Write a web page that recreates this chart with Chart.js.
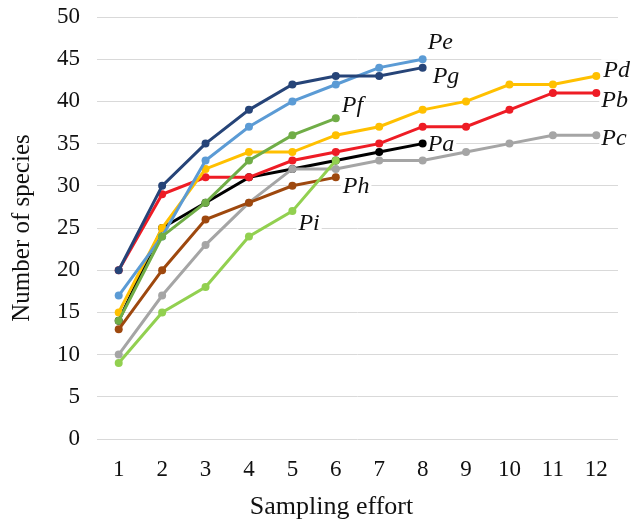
<!DOCTYPE html>
<html>
<head>
<meta charset="utf-8">
<script src="https://cdn.jsdelivr.net/npm/chart.js@4/dist/chart.umd.min.js"></script>
<style>
  html, body { margin: 0; padding: 0; background: #fff; }
  #wrap { width: 637px; height: 525px; }
</style>
</head>
<body>
<div id="wrap"><canvas id="species-chart" width="637" height="525"></canvas></div>
<script>
// Species accumulation curves
const efforts = ['1', '2', '3', '4', '5', '6', '7', '8', '9', '10', '11', '12'];

const Pa = [14, 25, 28, 31, 32, 33, 34, 35];
const Pb = [20, 29, 31, 31, 33, 34, 35, 37, 37, 39, 41, 41];
const Pc = [10, 17, 23, 28, 32, 32, 33, 33, 34, 35, 36, 36];
const Pd = [15, 25, 32, 34, 34, 36, 37, 39, 40, 42, 42, 43];
const Pe = [17, 24, 33, 37, 40, 42, 44, 45];
const Pf = [14, 24, 28, 33, 36, 38];
const Pg = [20, 30, 35, 39, 42, 43, 43, 44];
const Ph = [13, 20, 26, 28, 30, 31];
const Pi = [9, 15, 18, 24, 27, 33];

const seriesNames = ['Pa', 'Pb', 'Pc', 'Pd', 'Pe', 'Pf', 'Pg', 'Ph', 'Pi'];
const seriesData = [Pa, Pb, Pc, Pd, Pe, Pf, Pg, Ph, Pi];
const seriesColors = ['#000000', '#ee1c25', '#a5a5a5', '#ffc000', '#5b9bd5',
                      '#70ad47', '#264478', '#9e480e', '#92d050'];

// where each curve's name sits: point index it hangs off + pixel nudge
const nameSpots = {
    Pa: [7, 5, 7],   Pb: [11, 5, 14], Pc: [11, 5, 10],
    Pd: [11, 7, 1],  Pe: [7, 5, -10], Pf: [5, 6, -6],
    Pg: [7, 10, 15], Ph: [5, 7, 16],  Pi: [4, 6, 19]
};

const serif = "'Liberation Serif', 'Times New Roman', serif";

const curveNames = {
    id: 'curveNames',
    beforeDatasetsDraw(chart) {
        const ctx = chart.ctx;
        ctx.save();
        ctx.font = 'italic 24px ' + serif;
        ctx.textBaseline = 'alphabetic';
        ctx.textAlign = 'left';
        chart.data.datasets.forEach((ds, i) => {
            const spot = nameSpots[ds.label];
            const pt = chart.getDatasetMeta(i).data[spot[0]];
            const x = pt.x + spot[1];
            const y = pt.y + spot[2];
            const w = ctx.measureText(ds.label).width;
            ctx.fillStyle = '#fff';
            ctx.fillRect(x - 2, y - 18, w + 4, 24);
            ctx.fillStyle = '#111';
            ctx.fillText(ds.label, x, y);
        });
        ctx.restore();
    }
};

const datasets = seriesNames.map((name, i) => ({
    label: name,
    data: seriesData[i],
    borderColor: seriesColors[i],
    backgroundColor: seriesColors[i],
    pointBackgroundColor: seriesColors[i],
    pointBorderColor: seriesColors[i],
    borderWidth: 3,
    pointRadius: 4,
    pointBorderWidth: 0,
    tension: 0,
    fill: false,
    order: seriesNames.length - i
}));

new Chart(document.getElementById('species-chart').getContext('2d'), {
    type: 'line',
    data: { labels: efforts, datasets: datasets },
    plugins: [curveNames],
    options: {
        responsive: false,
        animation: false,
        layout: { padding: { top: 17, right: 19, left: 0, bottom: 0 } },
        plugins: {
            legend: { display: false },
            tooltip: { enabled: false }
        },
        scales: {
            x: {
                offset: true,
                grid: { display: false, drawTicks: false },
                border: { display: false },
                ticks: {
                    color: '#111',
                    padding: 17,
                    maxRotation: 0,
                    font: { family: serif, size: 23 }
                },
                title: {
                    display: true,
                    // trailing spaces pull the centred title a little left, as in the original
                    text: 'Sampling effort' + '\u00A0'.repeat(8),
                    color: '#111',
                    padding: { top: 0, bottom: 2 },
                    font: { family: serif, size: 26 }
                },
                afterFit(scale) {
                    scale.height = 86;
                    scale.paddingLeft = 0;
                    scale.paddingRight = 0;
                }
            },
            y: {
                min: 0,
                max: 50,
                grid: { color: '#d9d9d9', lineWidth: 1, drawTicks: false },
                border: { display: false },
                ticks: {
                    stepSize: 5,
                    color: '#111',
                    padding: 17,
                    font: { family: serif, size: 23 }
                },
                title: {
                    display: true,
                    text: 'Number of species',
                    color: '#111',
                    padding: { top: 7, bottom: 0 },
                    font: { family: serif, size: 25 }
                },
                afterFit(scale) {
                    scale.width = 97;
                    scale.paddingTop = 0;
                    scale.paddingBottom = 0;
                }
            }
        }
    }
});
</script>
</body>
</html>
